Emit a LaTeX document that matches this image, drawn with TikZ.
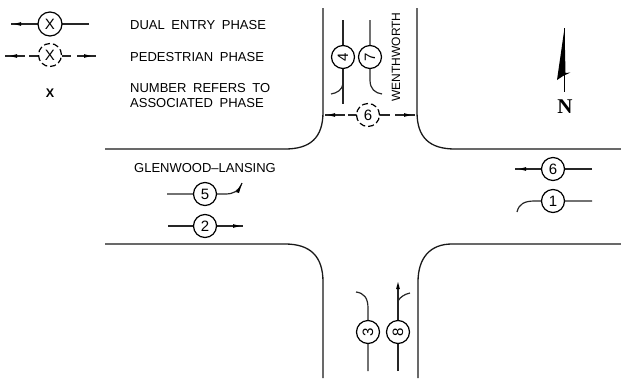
\documentclass[tikz,border=0pt]{standalone}
\usepackage{fontspec}
\setmainfont{Liberation Sans}
\tikzset{
  x=1pt,y=-1pt,
  road/.style={line width=1.3pt,draw=black!90},
  lane/.style={line width=1.2pt,draw=black!85},
  phase/.style={circle,draw=black,line width=1.2pt,minimum size=23pt,inner sep=0pt,font=\fontsize{15}{15}\selectfont,fill=white},
  ped/.style={phase,dash pattern=on 6pt off 3pt},
  lbl/.style={anchor=west,inner sep=0pt,font=\fontsize{13}{13}\selectfont,text=black},
}
\newcommand{\tipmark}[3]{\fill[shift={(#1,#2)},rotate=#3] (0,0) -- (-7,-1.9) -- (-7,1.9) -- cycle;}
\begin{document}
\begin{tikzpicture}
\useasboundingbox (0,0) rectangle (621,381);
% roads
\draw[road] (323,8) -- (323,112) .. controls (323,138) and (310,149) .. (285,149) -- (105,149);
\draw[road] (417,8) -- (417,112) .. controls (417,138) and (430,149) .. (455,149) -- (621,149);
\draw[road] (105,244) -- (285,244) .. controls (310,244) and (323,256) .. (323,282) -- (323,378);
\draw[road] (621,244) -- (452,244) .. controls (430,244) and (418,258) .. (418,282) -- (418,378);
% legend
\coordinate (lg1a) at (11,24); \coordinate (lg1b) at (89,24);
\draw[lane] (lg1b) -- (lg1a);
\tipmark{14}{24}{180}
\node[phase,minimum size=24pt] (lg1) at (50,24) {X};
\coordinate (lg2a) at (5,56); \coordinate (lg2b) at (96,56);
\draw[lane] (lg2a) -- (25,56);
\tipmark{10}{56}{180}
\draw[lane] (29,56) -- (38,56);
\draw[lane] (62,56) -- (71,56);
\draw[lane] (77,56) -- (lg2b);
\tipmark{91}{56}{0}
\node[ped] (lg2) at (50,55) {X};
\node[inner sep=0pt,font=\bfseries\fontsize{12.5}{12.5}\selectfont] (lg3) at (50,93) {X};
\node[lbl] (t1) at (130,25) {DUAL\hspace{3pt} ENTRY\hspace{3pt} PHASE};
\node[lbl] (t2) at (130,57) {PEDESTRIAN\hspace{3pt} PHASE};
\node[lbl] (t3) at (130,88) {NUMBER\hspace{3pt} REFERS\hspace{3pt} TO};
\node[lbl] (t4) at (130,103) {ASSOCIATED\hspace{3pt} PHASE};
% north arrow
\coordinate (na) at (564.5,28); \coordinate (nb) at (564.5,92);
\draw[line width=0.9pt] (na) -- (nb);
\fill (na) -- (557,80) -- (563,76) -- (570.5,72.5) -- (565.5,73) -- cycle;
\node[inner sep=0pt,font=\fontspec{Liberation Serif}\bfseries\fontsize{21}{21}\selectfont] (north) at (565,107) {N};
% street names
\node[inner sep=0pt,rotate=90,font=\fontsize{12}{12}\selectfont] (wen) at (396,57) {WENTHWORTH};
\node[inner sep=0pt,font=\fontsize{13}{13}\selectfont] (gl) at (205,168) {GLENWOOD--LANSING};
% north leg
\coordinate (a4t) at (343,20); \coordinate (a4b) at (343,104); \coordinate (a4c) at (331,94);
\draw[lane] (a4t) -- (a4b);
\draw[lane] (343,84) .. controls (342,90) and (337,93) .. (a4c);
\node[phase,rotate=90] (p4) at (343,57) {4};
\coordinate (a7t) at (370,20); \coordinate (a7c) at (382,94);
\draw[lane] (a7t) -- (370,80) .. controls (370,89) and (375,93) .. (a7c);
\node[phase,rotate=90] (p7) at (370,57) {7};
% north ped
\coordinate (pl) at (325,115); \coordinate (pr) at (415,115);
\draw[lane] (345,115) -- (pl);
\tipmark{328}{115}{180}
\draw[lane] (348,115) -- (358,115);
\draw[lane] (378,115) -- (390,115);
\draw[lane] (395,115) -- (pr);
\tipmark{411}{115}{0}
\node[ped] (p6n) at (368,115) {6};
% west leg
\coordinate (a5l) at (167,194); \coordinate (a5r) at (242,183);
\draw[lane] (a5l) -- (225,194) .. controls (234,194) and (239,191) .. (a5r);
\fill (a5r) -- (236,192) -- (239,193) -- cycle;
\node[phase] (p5) at (205,194) {5};
\coordinate (a2l) at (168,226); \coordinate (a2r) at (243,226);
\draw[lane] (a2l) -- (a2r);
\tipmark{240}{226}{0}
\node[phase] (p2) at (205,226) {2};
% east leg
\coordinate (a6l) at (515,169); \coordinate (a6r) at (592,169);
\draw[lane] (a6r) -- (a6l);
\tipmark{519}{169}{180}
\node[phase] (p6e) at (553,169) {6};
\coordinate (a1l) at (517,212); \coordinate (a1r) at (592,201);
\draw[lane] (a1r) -- (535,201) .. controls (524,201) and (519,204) .. (a1l);
\node[phase] (p1) at (553,201) {1};
% south leg
\coordinate (a3b) at (368,371); \coordinate (a3c) at (356,292);
\draw[lane] (a3b) -- (368,308) .. controls (368,298) and (364,293) .. (a3c);
\node[phase,rotate=90] (p3) at (368,332) {3};
\coordinate (a8b) at (398,371); \coordinate (a8t) at (398,282); \coordinate (a8c) at (410,293);
\draw[lane] (a8b) -- (398,288);
\tipmark{398}{282}{90}
\draw[lane] (398,301) .. controls (400,297) and (405,294) .. (a8c);
\node[phase,rotate=90] (p8) at (398,332) {8};
\end{tikzpicture}
\end{document}
